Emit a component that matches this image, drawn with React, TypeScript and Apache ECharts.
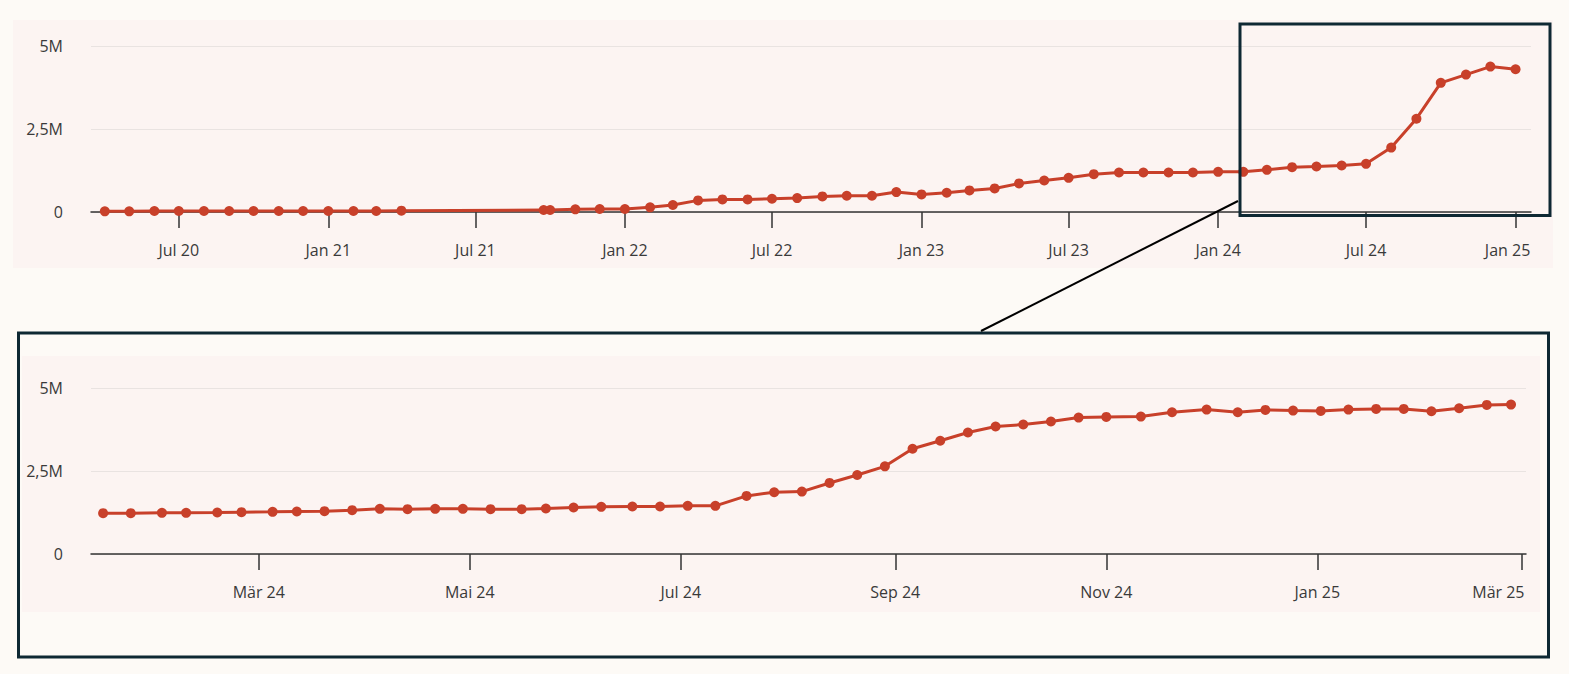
import React, { useEffect, useRef } from "react";
import * as echarts from "echarts";

// ---------- DATA ----------
// Overview chart (monthly), values in millions
const overviewDates = [
  "2020-04-01", "2020-05-01", "2020-06-01", "2020-07-01", "2020-08-01", "2020-09-01",
  "2020-10-01", "2020-11-01", "2020-12-01", "2021-01-01", "2021-02-01", "2021-03-01",
  "2021-04-01", "2021-09-23", "2021-10-01", "2021-11-01", "2021-12-01",
  "2022-01-01", "2022-02-01", "2022-03-01", "2022-04-01", "2022-05-01", "2022-06-01",
  "2022-07-01", "2022-08-01", "2022-09-01", "2022-10-01", "2022-11-01", "2022-12-01",
  "2023-01-01", "2023-02-01", "2023-03-01", "2023-04-01", "2023-05-01", "2023-06-01",
  "2023-07-01", "2023-08-01", "2023-09-01", "2023-10-01", "2023-11-01", "2023-12-01",
  "2024-01-01", "2024-02-01", "2024-03-01", "2024-04-01", "2024-05-01", "2024-06-01",
  "2024-07-01", "2024-08-01", "2024-09-01", "2024-10-01", "2024-11-01", "2024-12-01",
  "2025-01-01",
];
const overviewValues = [
  0.02, 0.02, 0.03, 0.03, 0.03, 0.03,
  0.03, 0.03, 0.03, 0.03, 0.03, 0.03,
  0.04, 0.06, 0.06, 0.08, 0.09,
  0.09, 0.14, 0.21, 0.35, 0.38, 0.38,
  0.40, 0.42, 0.47, 0.49, 0.49, 0.60,
  0.53, 0.58, 0.65, 0.71, 0.86, 0.95,
  1.03, 1.14, 1.19, 1.19, 1.19, 1.19,
  1.21, 1.21, 1.27, 1.35, 1.37, 1.40,
  1.45, 1.94, 2.81, 3.89, 4.14, 4.38,
  4.30,
];
const overviewTickDates = [
  "2020-07-01", "2021-01-01", "2021-07-01", "2022-01-01", "2022-07-01",
  "2023-01-01", "2023-07-01", "2024-01-01", "2024-07-01", "2025-01-01",
];
const overviewTickLabels = [
  "Jul 20", "Jan 21", "Jul 21", "Jan 22", "Jul 22",
  "Jan 23", "Jul 23", "Jan 24", "Jul 24", "Jan 25",
];

// Detail chart (roughly weekly), values in millions
const detailDates = [
  "2024-01-16", "2024-01-24", "2024-02-02", "2024-02-09", "2024-02-18", "2024-02-25",
  "2024-03-05", "2024-03-12", "2024-03-20", "2024-03-28", "2024-04-05", "2024-04-13",
  "2024-04-21", "2024-04-29", "2024-05-07", "2024-05-16", "2024-05-23", "2024-05-31",
  "2024-06-08", "2024-06-17", "2024-06-25", "2024-07-03", "2024-07-11", "2024-07-20",
  "2024-07-28", "2024-08-05", "2024-08-13", "2024-08-21", "2024-08-29", "2024-09-06",
  "2024-09-14", "2024-09-22", "2024-09-30", "2024-10-08", "2024-10-16", "2024-10-24",
  "2024-11-01", "2024-11-11", "2024-11-20", "2024-11-30", "2024-12-09", "2024-12-17",
  "2024-12-25", "2025-01-02", "2025-01-10", "2025-01-18", "2025-01-26", "2025-02-03",
  "2025-02-11", "2025-02-19", "2025-02-26",
];
const detailValues = [
  1.23, 1.23, 1.24, 1.24, 1.25, 1.26,
  1.27, 1.28, 1.29, 1.32, 1.36, 1.35,
  1.36, 1.36, 1.35, 1.35, 1.37, 1.40,
  1.42, 1.43, 1.43, 1.45, 1.45, 1.75,
  1.86, 1.88, 2.14, 2.38, 2.64, 3.17,
  3.41, 3.66, 3.84, 3.90, 3.99, 4.11,
  4.13, 4.14, 4.27, 4.35, 4.27, 4.34,
  4.32, 4.31, 4.35, 4.37, 4.37, 4.30,
  4.39, 4.49, 4.50,
];
const detailTickDates = [
  "2024-03-01", "2024-05-01", "2024-07-01", "2024-09-01",
  "2024-11-01", "2025-01-01", "2025-03-01",
];
const detailTickLabels = ["Mär 24", "Mai 24", "Jul 24", "Sep 24", "Nov 24", "Jan 25", "Mär 25"];

const yTicks = [0, 2.5, 5];
const yTickLabels = ["0", "2,5M", "5M"];

// ---------- HELPERS ----------
const ts = (s: string) => {
  const [y, m, d] = s.split("-").map(Number);
  return Date.UTC(y, m - 1, d);
};
const DAY = 86400000;

const FONT = "'Segoe UI', 'Open Sans', 'Noto Sans', sans-serif";
const FS = 16;
const LINE = "#C8402A";
const AXIS = "#333333";
const LABEL = "#3a3a3a";
const GRID = "#E9E3E1";
const PAGE_BG = "#FDFAF6";
const PANEL_BG = "#FCF4F2";
const FRAME = "#0E2833";

function makeXAxis(
  gridIndex: number, tickDates: string[], tickLabels: string[],
  min: number, max: number, lastShift: number
) {
  const tv = tickDates.map(ts);
  return {
    type: "value",
    gridIndex,
    min,
    max,
    axisLine: { show: true, onZero: true, lineStyle: { color: AXIS, width: 1.5 } },
    axisTick: { show: true, length: 16, customValues: tv, lineStyle: { color: AXIS, width: 1.5 } },
    axisLabel: {
      customValues: tv,
      margin: 30,
      fontSize: FS,
      color: LABEL,
      fontFamily: FONT,
      hideOverlap: false,
      formatter: (v: number) => {
        const i = tv.findIndex((t) => Math.abs(t - v) < DAY / 2);
        if (i < 0) return "";
        return i === tv.length - 1 ? `{last|${tickLabels[i]}}` : tickLabels[i];
      },
      rich: {
        last: {
          fontSize: FS,
          color: LABEL,
          fontFamily: FONT,
          padding: [0, lastShift * 2, 0, 0],
        },
      },
    },
    splitLine: { show: false },
    minorTick: { show: false },
  };
}

function makeYAxis(gridIndex: number) {
  return {
    type: "value",
    gridIndex,
    min: 0,
    max: 5,
    interval: 2.5,
    axisLine: { show: false },
    axisTick: { show: false },
    axisLabel: {
      margin: 28,
      fontSize: FS,
      color: LABEL,
      fontFamily: FONT,
      formatter: (v: number) => {
        const i = yTicks.indexOf(v);
        return i >= 0 ? yTickLabels[i] : "";
      },
    },
    splitLine: { show: true, lineStyle: { color: GRID, width: 1 } },
  };
}

function makeSeries(idx: number, dates: string[], values: number[]) {
  return {
    type: "line",
    xAxisIndex: idx,
    yAxisIndex: idx,
    data: dates.map((d, i) => [ts(d), values[i]]),
    symbol: "circle",
    symbolSize: 10,
    showSymbol: true,
    showAllSymbol: true,
    lineStyle: { color: LINE, width: 3 },
    itemStyle: { color: LINE },
    z: 5,
  };
}

export default function App() {
  const ref = useRef<HTMLDivElement>(null);

  useEffect(() => {
    document.body.style.margin = "0";
    document.body.style.background = PAGE_BG;
    if (!ref.current) return;
    const chart = echarts.init(ref.current, undefined, { renderer: "svg" });

    const option = {
      animation: false,
      backgroundColor: PAGE_BG,
      textStyle: { fontFamily: FONT },
      graphic: [
        { type: "rect", z: -10, silent: true, shape: { x: 13, y: 20, width: 1540, height: 248 }, style: { fill: PANEL_BG } },
        { type: "rect", z: -10, silent: true, shape: { x: 22, y: 356, width: 1518, height: 256 }, style: { fill: PANEL_BG } },
        {
          type: "rect", z: 100, silent: true,
          shape: { x: 18.5, y: 333, width: 1530, height: 324 },
          style: { fill: "none", stroke: FRAME, lineWidth: 3 },
        },
        {
          type: "rect", z: 100, silent: true,
          shape: { x: 1240, y: 24, width: 310, height: 191.5 },
          style: { fill: "none", stroke: FRAME, lineWidth: 3 },
        },
        {
          type: "line", z: 100, silent: true,
          shape: { x1: 1238, y1: 201, x2: 981, y2: 331 },
          style: { stroke: "#000000", lineWidth: 2 },
        },
      ],
      grid: [
        { left: 91, right: 38, top: 46, height: 166, containLabel: false },
        { left: 91, right: 43, top: 388, height: 166, containLabel: false },
      ],
      xAxis: [
        makeXAxis(0, overviewTickDates, overviewTickLabels, ts("2020-03-15"), ts("2025-01-20"), 8),
        makeXAxis(1, detailTickDates, detailTickLabels, ts("2024-01-12") + DAY / 2, ts("2025-03-02") + DAY / 3, 23),
      ],
      yAxis: [makeYAxis(0), makeYAxis(1)],
      series: [makeSeries(0, overviewDates, overviewValues), makeSeries(1, detailDates, detailValues)],
    };

    chart.setOption(option as any);
    return () => chart.dispose();
  }, []);

  return <div ref={ref} style={{ width: 1569, height: 674 }} />;
}
